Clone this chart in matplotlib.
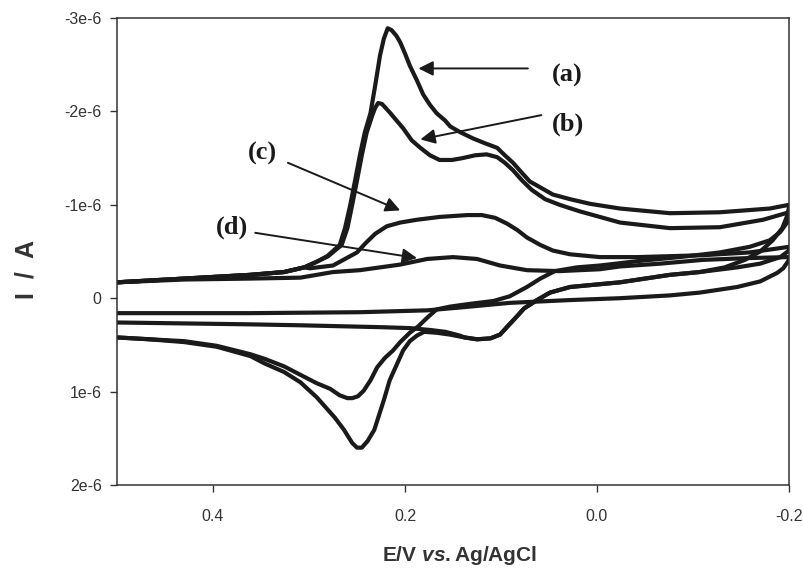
import matplotlib
matplotlib.use("Agg")
import matplotlib.pyplot as plt
import numpy as np

plt.rcParams["axes.unicode_minus"] = False
plt.rcParams["mathtext.fontset"] = "custom"
plt.rcParams["mathtext.it"] = "Liberation Sans:italic:bold"
plt.rcParams["mathtext.rm"] = "Liberation Sans:bold"

# Cyclic voltammograms (E in V vs. Ag/AgCl, I in microamps)
# Common starting segment of the cathodic-going sweep
start_E = [0.500, 0.430, 0.361, 0.326, 0.305, 0.292]
start_I = [-0.17, -0.21, -0.25, -0.28, -0.33, -0.39]

# ---- curve (a)
a_fwd_E = start_E + [0.281, 0.268, 0.2625, 0.257, 0.252, 0.247, 0.242, 0.236, 0.231, 0.226, 0.222, 0.218,
                     0.214, 0.209, 0.205, 0.200, 0.195, 0.1875, 0.181, 0.174, 0.167, 0.158, 0.153, 0.143,
                     0.129, 0.117, 0.104, 0.096, 0.0875, 0.078, 0.070, 0.058, 0.046, 0.028, 0.007,
                     -0.024, -0.076, -0.128, -0.180, -0.200]
a_fwd_I = start_I + [-0.45, -0.57, -0.75, -1.00, -1.26, -1.53, -1.77, -1.98, -2.28, -2.60, -2.78, -2.89,
                     -2.87, -2.81, -2.74, -2.62, -2.49, -2.33, -2.18, -2.07, -1.98, -1.90, -1.84, -1.78,
                     -1.71, -1.66, -1.61, -1.53, -1.45, -1.34, -1.25, -1.18, -1.11, -1.06, -1.01,
                     -0.96, -0.91, -0.92, -0.96, -1.00]
a_rev_E = [-0.200, -0.198, -0.193, -0.183, -0.170, -0.154, -0.133, -0.107, -0.076, -0.024, 0.028, 0.049,
           0.0625, 0.076, 0.083, 0.093, 0.101, 0.111, 0.125, 0.138, 0.153, 0.167, 0.180, 0.1875, 0.195,
           0.202, 0.209, 0.216, 0.222, 0.227, 0.232, 0.239, 0.245, 0.250, 0.255, 0.2635, 0.273, 0.292,
           0.309, 0.326, 0.346, 0.361, 0.396, 0.430, 0.466, 0.500]
a_rev_I = [-0.97, -0.88, -0.75, -0.62, -0.50, -0.41, -0.33, -0.28, -0.25, -0.17, -0.12, -0.06,
           0.02, 0.11, 0.19, 0.30, 0.39, 0.43, 0.44, 0.42, 0.39, 0.37, 0.36, 0.40, 0.46,
           0.56, 0.72, 0.88, 1.09, 1.25, 1.41, 1.53, 1.60, 1.60, 1.55, 1.41, 1.28, 1.06,
           0.90, 0.79, 0.70, 0.62, 0.52, 0.47, 0.44, 0.42]

# ---- curve (b)
b_fwd_E = start_E + [0.280, 0.266, 0.260, 0.255, 0.250, 0.245, 0.240, 0.234, 0.231, 0.228, 0.224, 0.216,
                     0.202, 0.193, 0.184, 0.174, 0.164, 0.151, 0.140, 0.127, 0.115, 0.104, 0.096, 0.0875,
                     0.078, 0.068, 0.054, 0.039, 0.018, -0.024, -0.076, -0.128, -0.173, -0.200]
b_fwd_I = start_I + [-0.45, -0.57, -0.75, -1.00, -1.26, -1.53, -1.77, -1.96, -2.04, -2.09, -2.08, -1.99,
                     -1.82, -1.69, -1.61, -1.53, -1.48, -1.48, -1.50, -1.53, -1.54, -1.51, -1.45, -1.37,
                     -1.26, -1.16, -1.06, -1.00, -0.93, -0.81, -0.75, -0.76, -0.84, -0.92]
b_rev_E = [-0.200, -0.198, -0.191, -0.180, -0.159, -0.128, -0.086, -0.045, -0.003, 0.021, 0.044, 0.059,
           0.073, 0.091, 0.108, 0.132, 0.153, 0.167, 0.177, 0.186, 0.195, 0.205, 0.2125, 0.221, 0.229,
           0.236, 0.243, 0.249, 0.255, 0.260, 0.268, 0.278, 0.292, 0.309, 0.326, 0.346, 0.361, 0.396,
           0.430, 0.466, 0.500]
b_rev_I = [-0.91, -0.81, -0.71, -0.62, -0.55, -0.49, -0.44, -0.40, -0.35, -0.33, -0.29, -0.21,
           -0.12, -0.02, 0.03, 0.06, 0.09, 0.12, 0.21, 0.30, 0.37, 0.47, 0.56, 0.64, 0.74,
           0.88, 0.99, 1.05, 1.07, 1.07, 1.04, 0.97, 0.91, 0.82, 0.73, 0.65, 0.60, 0.51,
           0.46, 0.44, 0.42]

# ---- curve (c)
c_fwd_E = start_E[:5] + [0.299, 0.275, 0.2625, 0.250, 0.241, 0.231, 0.219, 0.205, 0.1875, 0.164, 0.135,
                         0.120, 0.106, 0.094, 0.083, 0.073, 0.059, 0.046, 0.028, -0.003, -0.042, -0.110,
                         -0.159, -0.200]
c_fwd_I = start_I[:5] + [-0.32, -0.35, -0.42, -0.49, -0.59, -0.69, -0.77, -0.81, -0.84, -0.87, -0.89,
                         -0.89, -0.86, -0.80, -0.73, -0.65, -0.57, -0.51, -0.47, -0.44, -0.44, -0.46,
                         -0.49, -0.55]
c_rev_E = [-0.200, -0.191, -0.170, -0.146, -0.107, -0.076, -0.024, 0.028, 0.049, 0.0625, 0.076, 0.083,
           0.093, 0.101, 0.111, 0.125, 0.138, 0.143, 0.158, 0.174, 0.195, 0.226, 0.268, 0.309, 0.361,
           0.430, 0.500]
c_rev_I = [-0.51, -0.44, -0.37, -0.33, -0.28, -0.25, -0.17, -0.12, -0.06, 0.02, 0.11, 0.19,
           0.30, 0.39, 0.43, 0.44, 0.42, 0.40, 0.36, 0.34, 0.32, 0.31, 0.30, 0.29, 0.28,
           0.27, 0.26]

# ---- curve (d)
d_fwd_E = [0.500, 0.430, 0.361, 0.309, 0.275, 0.247, 0.226, 0.205, 0.177, 0.150, 0.125, 0.101, 0.073,
           0.039, -0.003, -0.024, -0.066, -0.110, -0.159, -0.200]
d_fwd_I = [-0.17, -0.20, -0.21, -0.22, -0.28, -0.30, -0.33, -0.36, -0.42, -0.44, -0.42, -0.35, -0.30,
           -0.29, -0.31, -0.34, -0.37, -0.41, -0.43, -0.44]
d_rev_E = [-0.200, -0.194, -0.1875, -0.170, -0.146, -0.107, -0.076, -0.024, 0.028, 0.091, 0.143, 0.177,
           0.247, 0.361, 0.500]
d_rev_I = [-0.41, -0.32, -0.27, -0.18, -0.12, -0.06, -0.03, 0.00, 0.02, 0.05, 0.10, 0.13,
           0.15, 0.16, 0.16]

curves = {
    "a": (a_fwd_E + a_rev_E, a_fwd_I + a_rev_I),
    "b": (b_fwd_E + b_rev_E, b_fwd_I + b_rev_I),
    "c": (c_fwd_E + c_rev_E, c_fwd_I + c_rev_I),
    "d": (d_fwd_E + d_rev_E, d_fwd_I + d_rev_I),
}

# Curve labels: text position and arrow tip (E, I in microamps)
label_names = ["(a)", "(b)", "(c)", "(d)"]
label_text_pos = [(0.031, -2.39), (0.030, -1.86), (0.349, -1.55), (0.380, -0.76)]
arrow_tail = [(0.072, -2.46), (0.058, -1.96), (0.322, -1.45), (0.356, -0.70)]
arrow_tip = [(0.186, -2.46), (0.184, -1.70), (0.205, -0.94), (0.1875, -0.43)]

x_ticks = [0.4, 0.2, 0.0, -0.2]
x_tick_labels = ["0.4", "0.2", "0.0", "-0.2"]
y_ticks = [-3e-6, -2e-6, -1e-6, 0.0, 1e-6, 2e-6]
y_tick_labels = ["-3e-6", "-2e-6", "-1e-6", "0", "1e-6", "2e-6"]

fig = plt.figure(figsize=(8.04, 5.72), dpi=100)
ax = fig.add_axes([117 / 804, (572 - 485) / 572, 672 / 804, 467 / 572])

line_color = "#1a1a1a"
for key, (E, I) in curves.items():
    ax.plot(np.array(E), np.array(I) * 1e-6, color=line_color, lw=3.0,
            solid_joinstyle="round", solid_capstyle="round")

for name, tpos, tail, tip in zip(label_names, label_text_pos, arrow_tail, arrow_tip):
    ax.text(tpos[0], tpos[1] * 1e-6, name, ha="center", va="center",
            fontsize=19, fontweight="bold", family="Liberation Serif", color="#1a1a1a")
    ax.annotate("", xy=(tip[0], tip[1] * 1e-6), xytext=(tail[0], tail[1] * 1e-6),
                arrowprops=dict(arrowstyle="-|>", color="#1a1a1a", lw=1.4,
                                mutation_scale=22, shrinkA=0, shrinkB=0))

ax.set_xlim(0.5, -0.2)
ax.set_ylim(2e-6, -3e-6)
ax.set_xticks(x_ticks)
ax.set_xticklabels(x_tick_labels)
ax.set_yticks(y_ticks)
ax.set_yticklabels(y_tick_labels)

for lab in ax.get_xticklabels() + ax.get_yticklabels():
    lab.set_family("Liberation Sans")
    lab.set_fontsize(11.5)
    lab.set_color("#333333")

ax.tick_params(direction="out", length=5, width=1.0, color="#333333", pad=6)
ax.tick_params(axis="x", pad=12)
for sp in ax.spines.values():
    sp.set_linewidth(1.1)
    sp.set_color("#333333")

ax.set_ylabel("I  /  A", family="Liberation Sans", fontsize=18, fontweight="bold", color="#333333")
ax.yaxis.label.set_va("center")
ax.yaxis.set_label_coords(-0.134, 0.4625)
ax.set_xlabel(r"E/V $\mathit{vs.}$Ag/AgCl", family="Liberation Sans", fontsize=15,
              fontweight="bold", color="#333333")
ax.xaxis.label.set_va("center")
ax.xaxis.set_label_coords(0.51, -0.150)

fig.savefig("out.png", dpi=100)
